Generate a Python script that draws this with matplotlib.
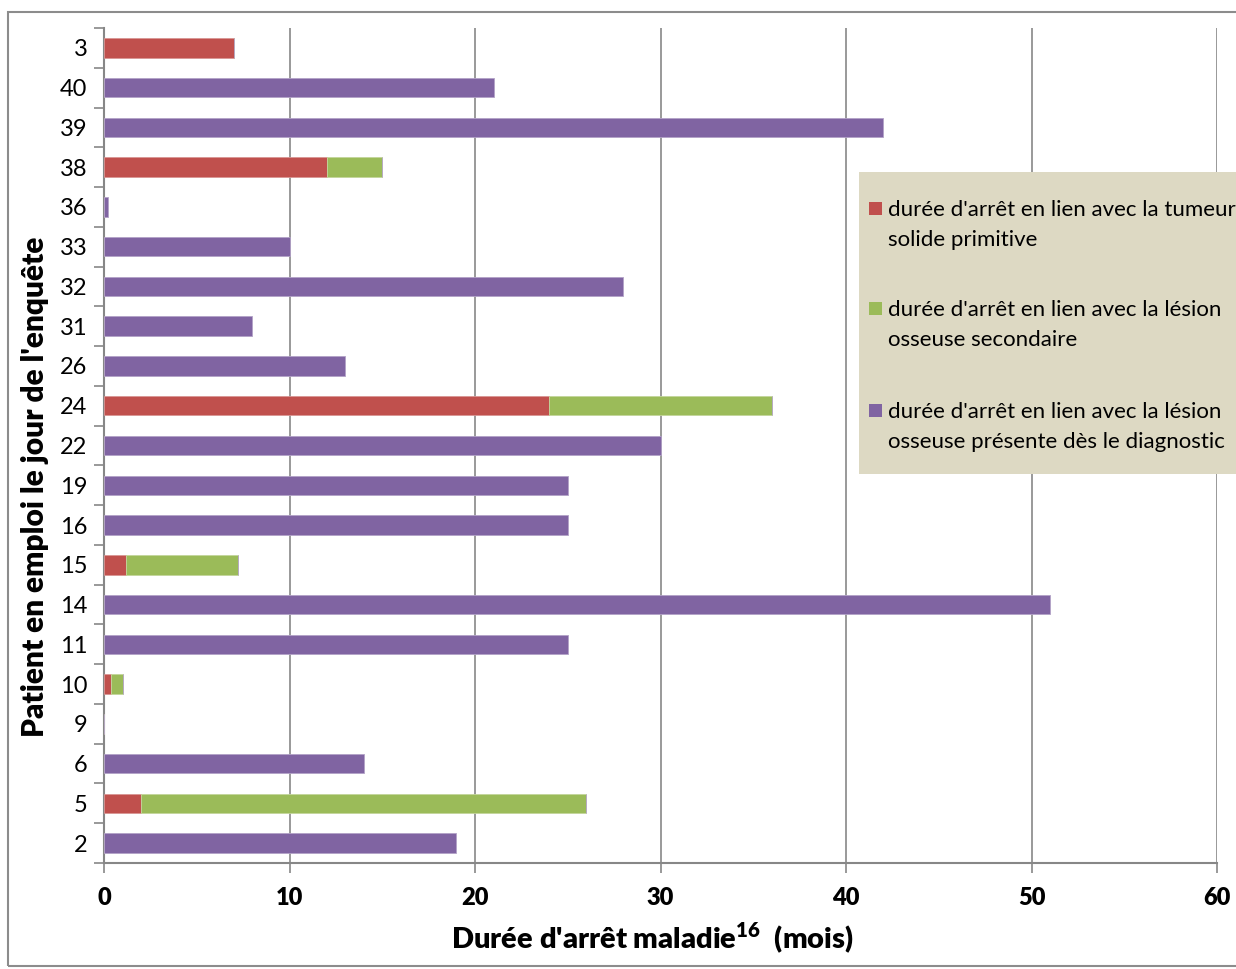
import matplotlib
matplotlib.use("Agg")
import matplotlib.pyplot as plt
from matplotlib.patches import Rectangle
import numpy as np

plt.rcParams['font.family'] = ['Lato', 'DejaVu Sans']
plt.rcParams['mathtext.fontset'] = 'custom'
plt.rcParams['mathtext.bf'] = 'Lato:weight=800'
plt.rcParams['mathtext.rm'] = 'Lato:weight=800'

# Patients, bottom to top
patients = ["2", "5", "6", "9", "10", "11", "14", "15", "16", "19", "22",
            "24", "26", "31", "32", "33", "36", "38", "39", "40", "3"]
# Sick-leave duration (months) by cause
tumeur_primitive = [0, 2, 0, 0, 0.4, 0, 0, 1.2, 0, 0, 0,
                    24, 0, 0, 0, 0, 0, 12, 0, 0, 7]
lesion_secondaire = [0, 24, 0, 0, 0.6, 0, 0, 6, 0, 0, 0,
                     12, 0, 0, 0, 0, 0, 3, 0, 0, 0]
lesion_diagnostic = [19, 0, 14, 0, 0, 25, 51, 0, 25, 25, 30,
                     0, 13, 8, 28, 10, 0.2, 0, 42, 21, 0]

labels = ["durée d'arrêt en lien avec la tumeur\nsolide primitive",
          "durée d'arrêt en lien avec la lésion\nosseuse secondaire",
          "durée d'arrêt en lien avec la lésion\nosseuse présente dès le diagnostic"]
colors = ["#C0504D", "#9BBB59", "#8064A2"]
edges = ["#D99694", "#C3D69B", "#B3A2C7"]

W, H = 1236, 969
fig = plt.figure(figsize=(W / 100, H / 100), dpi=100)
ax = fig.add_axes([104 / W, 1 - 863 / H, (1217 - 104) / W, (863 - 28) / H])

y = np.arange(len(patients))
t = np.array(tumeur_primitive)
s = np.array(lesion_secondaire)
d = np.array(lesion_diagnostic)
bh = 0.49
ax.barh(y, t, height=bh, color=colors[0], edgecolor=edges[0], linewidth=0.6, zorder=3)
ax.barh(y, s, left=t, height=bh, color=colors[1], edgecolor=edges[1], linewidth=0.6, zorder=3)
ax.barh(y, d, left=t + s, height=bh, color=colors[2], edgecolor=edges[2], linewidth=0.6, zorder=3)

ax.set_xlim(0, 60)
ax.set_ylim(-0.5, len(patients) - 0.5)
ax.set_xticks(np.arange(0, 61, 10))
ax.set_yticks(y)
ax.set_yticklabels(patients)
ax.set_yticks(np.arange(-0.5, len(patients), 1), minor=True)

grid_c = "#878787"
ax.grid(axis="x", color=grid_c, linewidth=1.2, zorder=0)
ax.set_axisbelow(True)
for side in ["top", "right"]:
    ax.spines[side].set_visible(False)
for side in ["left", "bottom"]:
    ax.spines[side].set_color(grid_c)
    ax.spines[side].set_linewidth(1.5)

ax.tick_params(axis="y", which="major", length=0, pad=12, labelsize=17, labelcolor="#000000")
ax.tick_params(axis="y", which="minor", length=7, width=1.2, color=grid_c)
ax.tick_params(axis="x", which="major", length=7, width=1.2, color=grid_c, pad=10,
               labelsize=17)
for lbl in ax.get_xticklabels():
    lbl.set_fontweight(800)

ax.set_xlabel(r"Durée d'arrêt maladie$^{\mathbf{16}}$  (mois)", fontsize=21,
              fontweight=800)
ax.xaxis.set_label_coords((652 - 104) / 1113, -(938 - 863) / 835)
ax.xaxis.label.set_va("center")
ax.set_ylabel("Patient en emploi le jour de l'enquête", fontsize=21.5,
              fontweight=800)
ax.yaxis.set_label_coords((35 - 104) / 1113, (863 - 487) / 835)
ax.yaxis.label.set_va("center")

# Legend panel
lx0, ly_top, ly_bot = 859, 172, 474
fig.patches.append(Rectangle((lx0 / W, 1 - ly_bot / H), (W - lx0 + 20) / W,
                             (ly_bot - ly_top) / H, transform=fig.transFigure,
                             facecolor="#DDD9C3", edgecolor="none", zorder=5))
entry_y = [208, 308, 410]
for lab, col, ey in zip(labels, colors, entry_y):
    fig.patches.append(Rectangle((869 / W, 1 - (ey + 7) / H), 13 / W, 13 / H,
                                 transform=fig.transFigure, facecolor=col,
                                 edgecolor="none", zorder=6))
    fig.text(888 / W, 1 - (ey - 8) / H, lab, fontsize=16, va="top", ha="left",
             linespacing=1.62, zorder=7)

# Outer frame
fig.patches.append(Rectangle((8 / W, 1 - 966 / H), (W) / W, (966 - 12) / H,
                             transform=fig.transFigure, facecolor="none",
                             edgecolor="#8C8C8C", linewidth=1.5, zorder=8))

fig.savefig("out.png", dpi=100)
